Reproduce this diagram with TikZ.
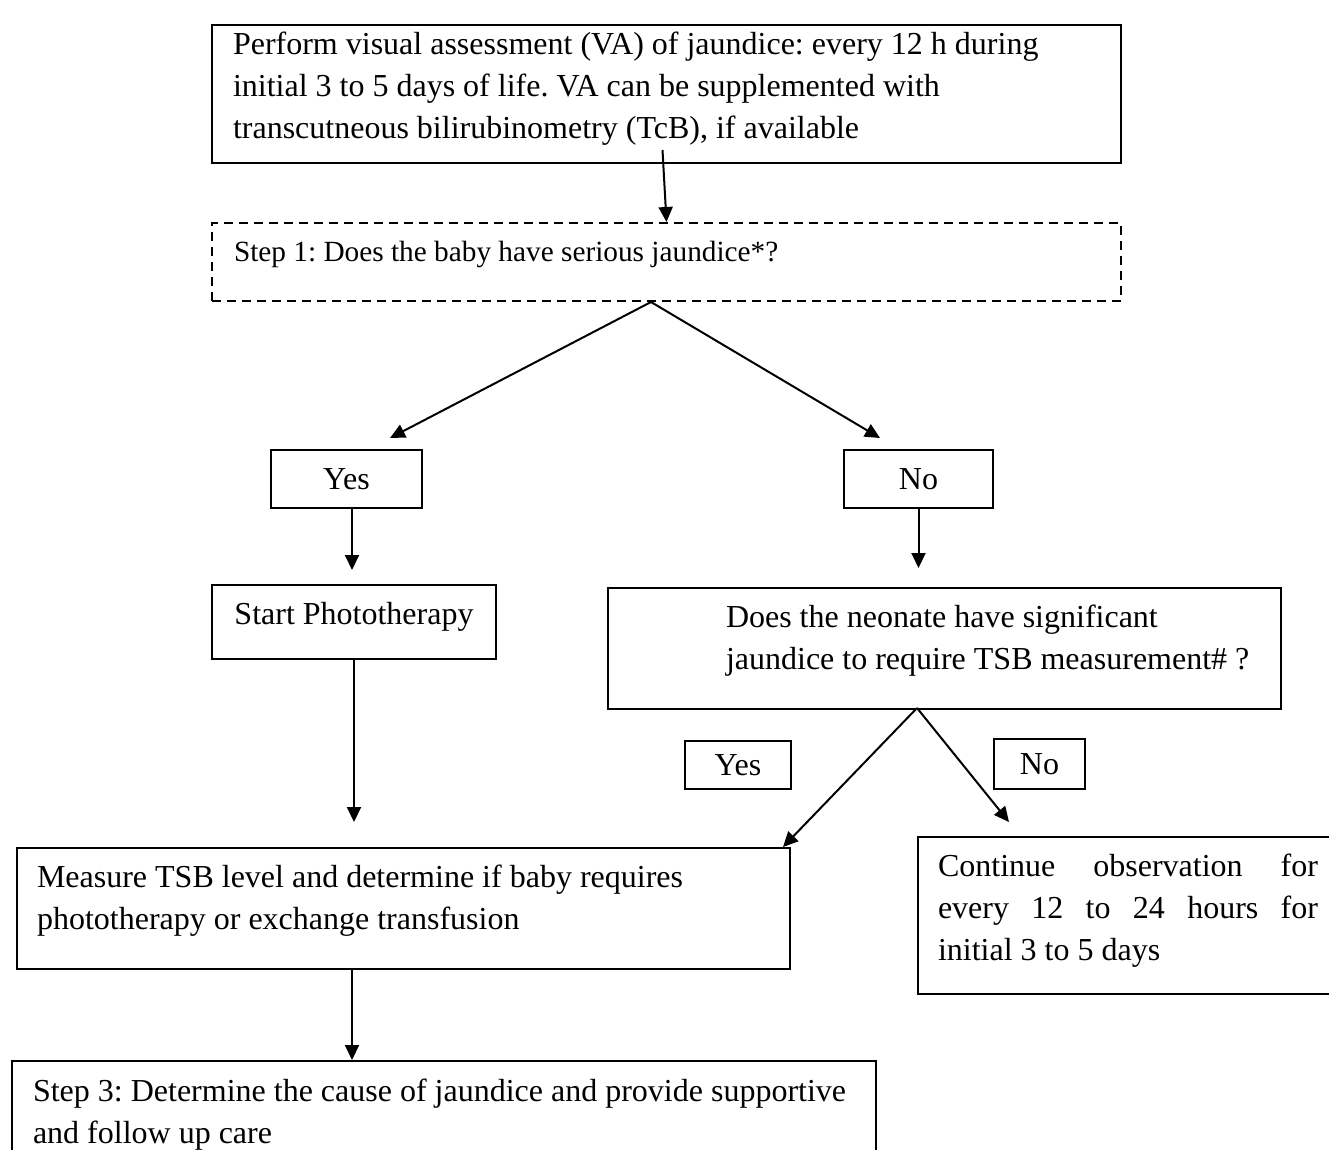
\documentclass[tikz,border=0pt]{standalone}
\usepackage{fontspec}
\setmainfont{Liberation Serif}
\usetikzlibrary{arrows.meta}
\frenchspacing
\tikzset{
  box/.style={draw, line width=2pt, anchor=north west, inner xsep=0pt, inner ysep=0pt},
  dashbox/.style={box, dash pattern=on 9pt off 6pt},
  lbl/.style={draw, line width=2pt, anchor=north west, inner sep=0pt, text height=21pt, text depth=0pt},
  arr/.style={line width=2pt, -{Triangle[length=15pt,width=14pt]}},
  bigfont/.style={font=\fontsize{32}{42}\selectfont\frenchspacing},
  smallfont/.style={font=\fontsize{29.3}{40}\selectfont\frenchspacing}
}
\begin{document}
\begin{tikzpicture}[x=1pt,y=-1pt]
\clip (0,0) rectangle (1329,1149);
\fill[white] (0,0) rectangle (1329,1149);

% top box 211-1120 x 24-162
\node[box, bigfont, inner xsep=21pt, inner ysep=4pt] (top) at (211,24)
 {\parbox[t][130pt][t]{867pt}{\raggedright\rule{0pt}{25pt}Perform visual assessment (VA) of jaundice: every 12 h during\\
 initial 3 to 5 days of life. VA can be supplemented with\\
 transcutneous bilirubinometry (TcB), if available}};

% step 1 dashed box 211-1120 x 222-300
\node[dashbox, smallfont, inner xsep=22pt, inner ysep=13pt] (step1) at (211,222)
 {\parbox[t][52pt][t]{865pt}{\raggedright\rule{0pt}{25pt}Step 1: Does the baby have serious jaundice*?}};

% Yes / No first level
\node[lbl, bigfont, minimum width=151pt, minimum height=58pt] (yes1) at (270,449) {Yes};
\node[lbl, bigfont, minimum width=149pt, minimum height=58pt] (no1) at (843,449) {No};

% Start phototherapy 211-495 x 584-658
\node[box, bigfont, inner xsep=10pt, inner ysep=14pt] (start) at (211,584)
 {\parbox[t][46pt][t]{264pt}{\centering\rule{0pt}{25pt}Start Phototherapy}};

% Does the neonate ... 607-1280 x 587-708
\node[box, bigfont, inner xsep=2pt, inner ysep=14pt] (does) at (607,587)
 {\parbox[t][93pt][t]{669pt}{\raggedright\leftskip=116pt\rule{0pt}{25pt}Does the neonate have significant\\
 jaundice to require TSB measurement\# ?}};

% second level labels
\node[lbl, bigfont, minimum width=106pt, minimum height=48pt] (yes2) at (684,740) {Yes};
\node[lbl, bigfont, minimum width=91pt, minimum height=50pt] (no2) at (993,738) {No};

% Measure TSB 16-789 x 847-968
\node[box, bigfont, inner xsep=20pt, inner ysep=14pt] (measure) at (16,847)
 {\parbox[t][93pt][t]{733pt}{\raggedright\rule{0pt}{25pt}Measure TSB level and determine if baby requires\\
 phototherapy or exchange transfusion}};

% Continue observation 917-1337 x 836-993
\node[box, bigfont, inner xsep=20pt, inner ysep=14pt] (cont) at (917,836)
 {\parbox[t][129pt][t]{380pt}{\sloppy\rule{0pt}{25pt}Continue observation for\linebreak
 every 12 to 24 hours for\linebreak
 initial 3 to 5 days}};

% Step 3 11-875 x 1060-
\node[box, bigfont, inner xsep=21pt, inner ysep=15pt] (step3) at (11,1060)
 {\parbox[t][120pt][t]{822pt}{\raggedright\rule{0pt}{25pt}Step 3: Determine the cause of jaundice and provide supportive\\
 and follow up care}};

% connectors
\draw[arr] ([shift={(-4,-14)}]top.south) -- (step1.north);
\coordinate (apex1) at ([xshift=-15.5pt]step1.south);
\draw[arr] (apex1) -- ([shift={(43.5,-11)}]yes1.north);
\draw[arr] (apex1) -- ([shift={(-38.5,-11)}]no1.north);
\draw[arr] ([xshift=5.5pt]yes1.south) -- ([shift={(-2,-14)}]start.north);
\draw[arr, shorten >=19pt] (no1.south) -- (no1.south |- does.north);
\draw[arr, shorten >=25pt] (start.south) -- (start.south |- measure.north);
\draw[arr] ([xshift=-51.5pt]measure.south) -- ([xshift=-51.5pt]measure.south |- step3.north);
\coordinate (apex2) at ([shift={(-27.5,-2)}]does.south);
\draw[arr] (apex2) -- ([xshift=-8pt]measure.north east);
\draw[arr] (apex2) -- ([shift={(92,-14)}]cont.north west);
\end{tikzpicture}
\end{document}
